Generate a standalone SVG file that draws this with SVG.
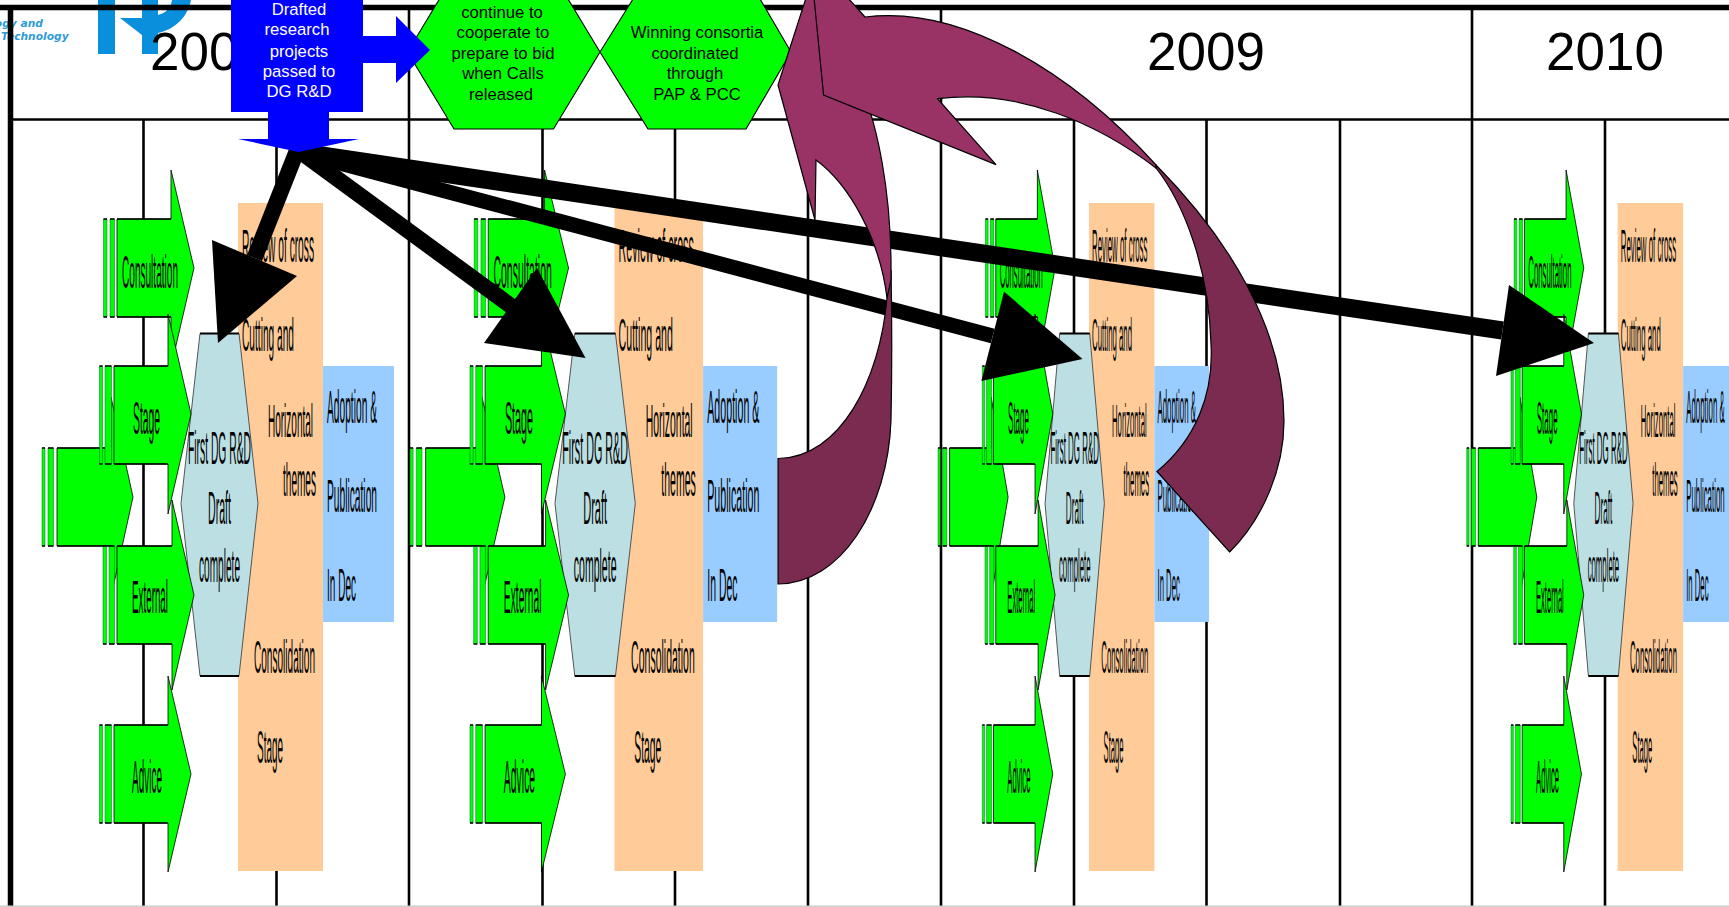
<svg xmlns="http://www.w3.org/2000/svg" width="1729" height="907" viewBox="0 0 1729 907">
<style>
text{font-family:"Liberation Sans",Arial,sans-serif}
.f{stroke:#000;stroke-width:5.5;fill:none}
.h{stroke:#000;stroke-width:2.6;fill:none}
.y{font-size:53px;fill:#000}
.a{fill:#00ff00;stroke:#000;stroke-width:.8;vector-effect:non-scaling-stroke}
.s{fill:#00ff00;stroke:#063;stroke-width:.5;vector-effect:non-scaling-stroke}
.l{fill:none;stroke:#000;stroke-width:1.6;vector-effect:non-scaling-stroke}
.d{fill:#bbdfe3;stroke:#555;stroke-width:1;vector-effect:non-scaling-stroke}
.e{stroke:#000;stroke-width:2;vector-effect:non-scaling-stroke}
.o{fill:#ffcc99}
.p{fill:#99ccff}
.t{font-size:46px;fill:#000}
.b{font-size:16.7px;text-anchor:middle}
.w{fill:#fff}
.k{fill:#000}
.blue{fill:#0000ff}
.sh{stroke:#000;fill:none;stroke-linecap:butt}
.m1{fill:#993366;stroke:#000;stroke-width:1.2}
.m2{fill:#7b2a50;stroke:#000;stroke-width:1.2}
.logo{fill:#0a8fdc}
.lt{font-family:"DejaVu Sans",sans-serif;font-size:10.7px;font-style:italic;font-weight:bold;fill:#2e9bd6}
</style>
<g id="logo">
<text class="lt" x="43" y="27" text-anchor="end">ogy and</text>
<text class="lt" x="1" y="40">Technology</text>
<rect class="logo" x="98" y="0" width="17" height="54"/>
<path class="logo" d="M120,18 L142,35 L142,54 L158,54 L158,33 C176,29 188,16 191,0 L172,0 C171,8 166,13 158,15 L158,0 L142,0 L142,18 Z"/>
</g>
<g id="grid">
<path class="f" d="M0,7.5H1729M10.5,7.5V907"/>
<path class="h" d="M10.5,119.500H1729"/>
<path class="h" d="M409,7V907M941,7V907M1472,7V907M143.500,119V907M276.500,119V907M542.500,119V907M675,119V907M808,119V907M1074,119V907M1206.500,119V907M1340,119V907M1605,119V907"/>
<path stroke="#ccc" stroke-width="1.5" d="M0,906.300H1729"/>
</g>
<g id="years">
<text class="y" x="150" y="69.500">200</text>
<text class="y" x="1147" y="69.500">2009</text>
<text class="y" x="1546" y="69.500">2010</text>
</g>
<g id="hex-cooperate">
<polygon points="407.500,52 454,-25 553.500,-25 600,52 553.500,129 454,129" fill="#00ff00" stroke="#000" stroke-width="1.1"/>
<text class="b" x="502" y="18">continue to</text>
<text class="b" x="503" y="38">cooperate to</text>
<text class="b" x="503" y="59">prepare to bid</text>
<text class="b" x="503" y="79">when Calls</text>
<text class="b" x="501" y="100">released</text>
</g>
<g id="hex-winning">
<polygon points="600,52 648,-25 746,-25 791,52 746,129 648,129" fill="#00ff00" stroke="#000" stroke-width="1.1"/>
<text class="b" x="697" y="38">Winning consortia</text>
<text class="b" x="695" y="59">coordinated</text>
<text class="b" x="695" y="79">through</text>
<text class="b" x="697" y="100">PAP &amp; PCC</text>
</g>

<g id="block-1">
<rect class="o" x="238" y="203" width="85" height="668"/>
<rect class="p" x="323" y="366" width="71" height="256"/>
<polygon class="d" points="200,333.500 239,333.500 258,503.500 239,676 200,676 181,503.500"/>
<path class="e" d="M200,333.500H239M200,676H239"/>
<g id="b1-feed"><rect class="s" x="42" y="448" width="3" height="98"/><rect class="s" x="48" y="448" width="5.500" height="98"/><polygon class="a" points="57,448 111,448 111,397 133,497 111,597 111,546 57,546"/><path class="l" d="M42,448H45M48,448H53.500M57,448H111M42,546H45M48,546H53.500M57,546H111"/></g>
<g id="b1-consultation"><rect class="s" x="103.500" y="219" width="3.500" height="98"/><rect class="s" x="110" y="219" width="4.500" height="98"/><polygon class="a" points="117,219 171,219 171,170 194,268 171,367 171,317 117,317"/><path class="l" d="M103.500,219H107M110,219H114.500M117,219H171M103.500,317H107M110,317H114.500M117,317H171"/><text class="t" x="122" y="288" textLength="56" lengthAdjust="spacingAndGlyphs">Consultation</text></g>
<g id="b1-stage"><rect class="s" x="99.500" y="366" width="3" height="98"/><rect class="s" x="105" y="366" width="6.500" height="98"/><polygon class="a" points="114,366 168,366 168,314 191,414 168,514 168,464 114,464"/><path class="l" d="M99.500,366H102.500M105,366H111.500M114,366H168M99.500,464H102.500M105,464H111.500M114,464H168"/><text class="t" x="133" y="434" textLength="27" lengthAdjust="spacingAndGlyphs">Stage</text></g>
<g id="b1-external"><rect class="s" x="103" y="546" width="3.500" height="98"/><rect class="s" x="109" y="546" width="5.500" height="98"/><polygon class="a" points="117,546 172,546 172,500 194,595 172,690 172,644 117,644"/><path class="l" d="M103,546H106.500M109,546H114.500M117,546H172M103,644H106.500M109,644H114.500M117,644H172"/><text class="t" x="132" y="613" textLength="36" lengthAdjust="spacingAndGlyphs">External</text></g>
<g id="b1-advice"><rect class="s" x="99.500" y="725" width="3" height="98"/><rect class="s" x="105" y="725" width="6.500" height="98"/><polygon class="a" points="114,725 168,725 168,676 191,774 168,872 168,823 114,823"/><path class="l" d="M99.500,725H102.500M105,725H111.500M114,725H168M99.500,823H102.500M105,823H111.500M114,823H168"/><text class="t" x="132" y="793" textLength="30" lengthAdjust="spacingAndGlyphs">Advice</text></g>
<g id="b1-labels">
<text class="t" x="188" y="464" textLength="63" lengthAdjust="spacingAndGlyphs">First DG R&amp;D</text>
<text class="t" x="208" y="524" textLength="23" lengthAdjust="spacingAndGlyphs">Draft</text>
<text class="t" x="199" y="582" textLength="41" lengthAdjust="spacingAndGlyphs">complete</text>
<text class="t" x="242" y="262" textLength="72" lengthAdjust="spacingAndGlyphs">Review of cross</text>
<text class="t" x="242" y="351" textLength="52" lengthAdjust="spacingAndGlyphs">Cutting and</text>
<text class="t" x="268" y="437" textLength="45" lengthAdjust="spacingAndGlyphs">Horizontal</text>
<text class="t" x="283" y="496" textLength="33" lengthAdjust="spacingAndGlyphs">themes</text>
<text class="t" x="254" y="673" textLength="61" lengthAdjust="spacingAndGlyphs">Consolidation</text>
<text class="t" x="257" y="763" textLength="26" lengthAdjust="spacingAndGlyphs">Stage</text>
<text class="t" x="327" y="423" textLength="50" lengthAdjust="spacingAndGlyphs">Adoption &amp;</text>
<text class="t" x="327" y="512" textLength="50" lengthAdjust="spacingAndGlyphs">Publication</text>
<text class="t" x="327" y="601" textLength="29" lengthAdjust="spacingAndGlyphs">In Dec</text>
</g>
</g>

<g id="block-2" transform="translate(366.2,0) scale(1.043,1)">
<rect class="o" x="238" y="203" width="85" height="668"/>
<rect class="p" x="323" y="366" width="71" height="256"/>
<polygon class="d" points="200,333.500 239,333.500 258,503.500 239,676 200,676 181,503.500"/>
<path class="e" d="M200,333.500H239M200,676H239"/>
<g id="b2-feed"><rect class="s" x="42" y="448" width="3" height="98"/><rect class="s" x="48" y="448" width="5.500" height="98"/><polygon class="a" points="57,448 111,448 111,397 133,497 111,597 111,546 57,546"/><path class="l" d="M42,448H45M48,448H53.500M57,448H111M42,546H45M48,546H53.500M57,546H111"/></g>
<g id="b2-consultation"><rect class="s" x="103.500" y="219" width="3.500" height="98"/><rect class="s" x="110" y="219" width="4.500" height="98"/><polygon class="a" points="117,219 171,219 171,170 194,268 171,367 171,317 117,317"/><path class="l" d="M103.500,219H107M110,219H114.500M117,219H171M103.500,317H107M110,317H114.500M117,317H171"/><text class="t" x="122" y="288" textLength="56" lengthAdjust="spacingAndGlyphs">Consultation</text></g>
<g id="b2-stage"><rect class="s" x="99.500" y="366" width="3" height="98"/><rect class="s" x="105" y="366" width="6.500" height="98"/><polygon class="a" points="114,366 168,366 168,314 191,414 168,514 168,464 114,464"/><path class="l" d="M99.500,366H102.500M105,366H111.500M114,366H168M99.500,464H102.500M105,464H111.500M114,464H168"/><text class="t" x="133" y="434" textLength="27" lengthAdjust="spacingAndGlyphs">Stage</text></g>
<g id="b2-external"><rect class="s" x="103" y="546" width="3.500" height="98"/><rect class="s" x="109" y="546" width="5.500" height="98"/><polygon class="a" points="117,546 172,546 172,500 194,595 172,690 172,644 117,644"/><path class="l" d="M103,546H106.500M109,546H114.500M117,546H172M103,644H106.500M109,644H114.500M117,644H172"/><text class="t" x="132" y="613" textLength="36" lengthAdjust="spacingAndGlyphs">External</text></g>
<g id="b2-advice"><rect class="s" x="99.500" y="725" width="3" height="98"/><rect class="s" x="105" y="725" width="6.500" height="98"/><polygon class="a" points="114,725 168,725 168,676 191,774 168,872 168,823 114,823"/><path class="l" d="M99.500,725H102.500M105,725H111.500M114,725H168M99.500,823H102.500M105,823H111.500M114,823H168"/><text class="t" x="132" y="793" textLength="30" lengthAdjust="spacingAndGlyphs">Advice</text></g>
<g id="b2-labels">
<text class="t" x="188" y="464" textLength="63" lengthAdjust="spacingAndGlyphs">First DG R&amp;D</text>
<text class="t" x="208" y="524" textLength="23" lengthAdjust="spacingAndGlyphs">Draft</text>
<text class="t" x="199" y="582" textLength="41" lengthAdjust="spacingAndGlyphs">complete</text>
<text class="t" x="242" y="262" textLength="72" lengthAdjust="spacingAndGlyphs">Review of cross</text>
<text class="t" x="242" y="351" textLength="52" lengthAdjust="spacingAndGlyphs">Cutting and</text>
<text class="t" x="268" y="437" textLength="45" lengthAdjust="spacingAndGlyphs">Horizontal</text>
<text class="t" x="283" y="496" textLength="33" lengthAdjust="spacingAndGlyphs">themes</text>
<text class="t" x="254" y="673" textLength="61" lengthAdjust="spacingAndGlyphs">Consolidation</text>
<text class="t" x="257" y="763" textLength="26" lengthAdjust="spacingAndGlyphs">Stage</text>
<text class="t" x="327" y="423" textLength="50" lengthAdjust="spacingAndGlyphs">Adoption &amp;</text>
<text class="t" x="327" y="512" textLength="50" lengthAdjust="spacingAndGlyphs">Publication</text>
<text class="t" x="327" y="601" textLength="29" lengthAdjust="spacingAndGlyphs">In Dec</text>
</g>
</g>

<g id="block-3" transform="translate(905.7,0) scale(0.77,1)">
<rect class="o" x="238" y="203" width="85" height="668"/>
<rect class="p" x="323" y="366" width="71" height="256"/>
<polygon class="d" points="200,333.500 239,333.500 258,503.500 239,676 200,676 181,503.500"/>
<path class="e" d="M200,333.500H239M200,676H239"/>
<g id="b3-feed"><rect class="s" x="42" y="448" width="3" height="98"/><rect class="s" x="48" y="448" width="5.500" height="98"/><polygon class="a" points="57,448 111,448 111,397 133,497 111,597 111,546 57,546"/><path class="l" d="M42,448H45M48,448H53.500M57,448H111M42,546H45M48,546H53.500M57,546H111"/></g>
<g id="b3-consultation"><rect class="s" x="103.500" y="219" width="3.500" height="98"/><rect class="s" x="110" y="219" width="4.500" height="98"/><polygon class="a" points="117,219 171,219 171,170 194,268 171,367 171,317 117,317"/><path class="l" d="M103.500,219H107M110,219H114.500M117,219H171M103.500,317H107M110,317H114.500M117,317H171"/><text class="t" x="122" y="288" textLength="56" lengthAdjust="spacingAndGlyphs">Consultation</text></g>
<g id="b3-stage"><rect class="s" x="99.500" y="366" width="3" height="98"/><rect class="s" x="105" y="366" width="6.500" height="98"/><polygon class="a" points="114,366 168,366 168,314 191,414 168,514 168,464 114,464"/><path class="l" d="M99.500,366H102.500M105,366H111.500M114,366H168M99.500,464H102.500M105,464H111.500M114,464H168"/><text class="t" x="133" y="434" textLength="27" lengthAdjust="spacingAndGlyphs">Stage</text></g>
<g id="b3-external"><rect class="s" x="103" y="546" width="3.500" height="98"/><rect class="s" x="109" y="546" width="5.500" height="98"/><polygon class="a" points="117,546 172,546 172,500 194,595 172,690 172,644 117,644"/><path class="l" d="M103,546H106.500M109,546H114.500M117,546H172M103,644H106.500M109,644H114.500M117,644H172"/><text class="t" x="132" y="613" textLength="36" lengthAdjust="spacingAndGlyphs">External</text></g>
<g id="b3-advice"><rect class="s" x="99.500" y="725" width="3" height="98"/><rect class="s" x="105" y="725" width="6.500" height="98"/><polygon class="a" points="114,725 168,725 168,676 191,774 168,872 168,823 114,823"/><path class="l" d="M99.500,725H102.500M105,725H111.500M114,725H168M99.500,823H102.500M105,823H111.500M114,823H168"/><text class="t" x="132" y="793" textLength="30" lengthAdjust="spacingAndGlyphs">Advice</text></g>
<g id="b3-labels">
<text class="t" x="188" y="464" textLength="63" lengthAdjust="spacingAndGlyphs">First DG R&amp;D</text>
<text class="t" x="208" y="524" textLength="23" lengthAdjust="spacingAndGlyphs">Draft</text>
<text class="t" x="199" y="582" textLength="41" lengthAdjust="spacingAndGlyphs">complete</text>
<text class="t" x="242" y="262" textLength="72" lengthAdjust="spacingAndGlyphs">Review of cross</text>
<text class="t" x="242" y="351" textLength="52" lengthAdjust="spacingAndGlyphs">Cutting and</text>
<text class="t" x="268" y="437" textLength="45" lengthAdjust="spacingAndGlyphs">Horizontal</text>
<text class="t" x="283" y="496" textLength="33" lengthAdjust="spacingAndGlyphs">themes</text>
<text class="t" x="254" y="673" textLength="61" lengthAdjust="spacingAndGlyphs">Consolidation</text>
<text class="t" x="257" y="763" textLength="26" lengthAdjust="spacingAndGlyphs">Stage</text>
<text class="t" x="327" y="423" textLength="50" lengthAdjust="spacingAndGlyphs">Adoption &amp;</text>
<text class="t" x="327" y="512" textLength="50" lengthAdjust="spacingAndGlyphs">Publication</text>
<text class="t" x="327" y="601" textLength="29" lengthAdjust="spacingAndGlyphs">In Dec</text>
</g>
</g>

<g id="block-4" transform="translate(1434.4,0) scale(0.77,1)">
<rect class="o" x="238" y="203" width="85" height="668"/>
<rect class="p" x="323" y="366" width="71" height="256"/>
<polygon class="d" points="200,333.500 239,333.500 258,503.500 239,676 200,676 181,503.500"/>
<path class="e" d="M200,333.500H239M200,676H239"/>
<g id="b4-feed"><rect class="s" x="42" y="448" width="3" height="98"/><rect class="s" x="48" y="448" width="5.500" height="98"/><polygon class="a" points="57,448 111,448 111,397 133,497 111,597 111,546 57,546"/><path class="l" d="M42,448H45M48,448H53.500M57,448H111M42,546H45M48,546H53.500M57,546H111"/></g>
<g id="b4-consultation"><rect class="s" x="103.500" y="219" width="3.500" height="98"/><rect class="s" x="110" y="219" width="4.500" height="98"/><polygon class="a" points="117,219 171,219 171,170 194,268 171,367 171,317 117,317"/><path class="l" d="M103.500,219H107M110,219H114.500M117,219H171M103.500,317H107M110,317H114.500M117,317H171"/><text class="t" x="122" y="288" textLength="56" lengthAdjust="spacingAndGlyphs">Consultation</text></g>
<g id="b4-stage"><rect class="s" x="99.500" y="366" width="3" height="98"/><rect class="s" x="105" y="366" width="6.500" height="98"/><polygon class="a" points="114,366 168,366 168,314 191,414 168,514 168,464 114,464"/><path class="l" d="M99.500,366H102.500M105,366H111.500M114,366H168M99.500,464H102.500M105,464H111.500M114,464H168"/><text class="t" x="133" y="434" textLength="27" lengthAdjust="spacingAndGlyphs">Stage</text></g>
<g id="b4-external"><rect class="s" x="103" y="546" width="3.500" height="98"/><rect class="s" x="109" y="546" width="5.500" height="98"/><polygon class="a" points="117,546 172,546 172,500 194,595 172,690 172,644 117,644"/><path class="l" d="M103,546H106.500M109,546H114.500M117,546H172M103,644H106.500M109,644H114.500M117,644H172"/><text class="t" x="132" y="613" textLength="36" lengthAdjust="spacingAndGlyphs">External</text></g>
<g id="b4-advice"><rect class="s" x="99.500" y="725" width="3" height="98"/><rect class="s" x="105" y="725" width="6.500" height="98"/><polygon class="a" points="114,725 168,725 168,676 191,774 168,872 168,823 114,823"/><path class="l" d="M99.500,725H102.500M105,725H111.500M114,725H168M99.500,823H102.500M105,823H111.500M114,823H168"/><text class="t" x="132" y="793" textLength="30" lengthAdjust="spacingAndGlyphs">Advice</text></g>
<g id="b4-labels">
<text class="t" x="188" y="464" textLength="63" lengthAdjust="spacingAndGlyphs">First DG R&amp;D</text>
<text class="t" x="208" y="524" textLength="23" lengthAdjust="spacingAndGlyphs">Draft</text>
<text class="t" x="199" y="582" textLength="41" lengthAdjust="spacingAndGlyphs">complete</text>
<text class="t" x="242" y="262" textLength="72" lengthAdjust="spacingAndGlyphs">Review of cross</text>
<text class="t" x="242" y="351" textLength="52" lengthAdjust="spacingAndGlyphs">Cutting and</text>
<text class="t" x="268" y="437" textLength="45" lengthAdjust="spacingAndGlyphs">Horizontal</text>
<text class="t" x="283" y="496" textLength="33" lengthAdjust="spacingAndGlyphs">themes</text>
<text class="t" x="254" y="673" textLength="61" lengthAdjust="spacingAndGlyphs">Consolidation</text>
<text class="t" x="257" y="763" textLength="26" lengthAdjust="spacingAndGlyphs">Stage</text>
<text class="t" x="327" y="423" textLength="50" lengthAdjust="spacingAndGlyphs">Adoption &amp;</text>
<text class="t" x="327" y="512" textLength="50" lengthAdjust="spacingAndGlyphs">Publication</text>
<text class="t" x="327" y="601" textLength="29" lengthAdjust="spacingAndGlyphs">In Dec</text>
</g>
</g>

<g id="connectors">
<g id="link-1"><line class="sh" x1="298" y1="148" x2="254.500" y2="258" stroke-width="16"/><polygon class="k" points="218,343 212,240 297,276"/></g>
<g id="link-2"><line class="sh" x1="298" y1="150" x2="511" y2="306" stroke-width="16"/><polygon class="k" points="585.500,358 537,268 484,343"/></g>
<g id="link-3"><line class="sh" x1="298" y1="152" x2="992.700" y2="336" stroke-width="15"/><polygon class="k" points="1082.500,359 1004,291.600 981.400,381"/></g>
<g id="link-4"><line class="sh" x1="298" y1="152" x2="1502.500" y2="330.500" stroke-width="18"/><polygon class="k" points="1594,343 1509,285 1496,376"/></g>
<g id="curve-a">
<path class="m2" d="M778,458.500 C840,458 880,380 887,298 L891,270 C892,320 892,370 891,420 C888,510 840,584 778,584 Z"/>
<path class="m1" d="M891,280 C892,200 880,120 850,60 L815,-30 L778,85 L815,220 L816,160 C850,185 880,240 887,298 Z"/>
</g>
<g id="curve-b">
<path class="m2" d="M1156,165 C1230,240 1284,330 1284,421 C1284,470 1262,520 1229.600,552 L1157,471.500 C1195,440 1214,395 1211,344 C1209,270 1185,205 1156,168 Z"/>
<path class="m1" d="M1156,168 C1100,125 1020,88 937.500,98.700 L996,164.600 L823.600,95 L810,-43 L814,-40 L865,17 C960,5 1070,70 1156,165 Z"/>
</g>
</g>
<g id="drafted">
<polygon class="blue" points="268,100 329,100 329,139 359,139 298.500,152 238,139 268,139"/>
<polygon class="blue" points="350,36 396,36 396,16 430,50 396,83 396,63 350,63"/>
<rect class="blue" x="231" y="0" width="132" height="112"/>
<text class="b w" x="299" y="15">Drafted</text>
<text class="b w" x="297" y="35">research</text>
<text class="b w" x="299" y="57">projects</text>
<text class="b w" x="299" y="77">passed to</text>
<text class="b w" x="299" y="97">DG R&amp;D</text>
</g>
</svg>
